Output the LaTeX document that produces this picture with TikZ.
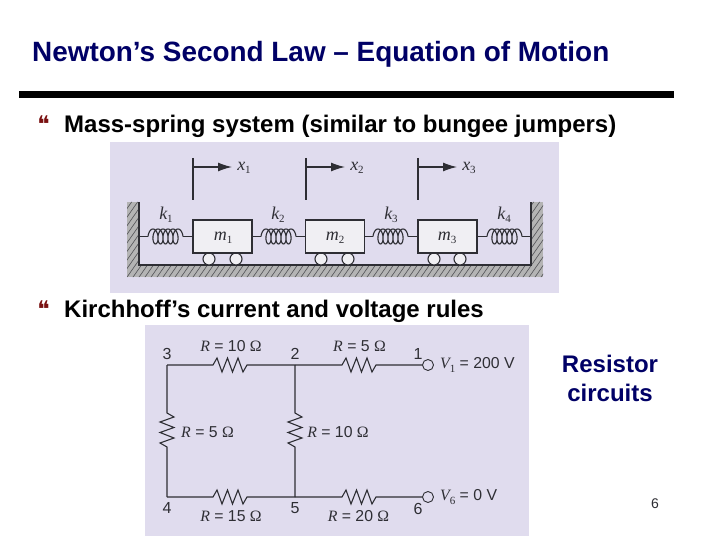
\documentclass[tikz,border=0pt]{standalone}
\usepackage{fontspec}
\setmainfont{Liberation Sans}
\newfontfamily\serifit{Liberation Serif}[ItalicFont=* Italic]
\newfontfamily\dejavu{DejaVu Sans}
\usetikzlibrary{arrows.meta}
\definecolor{panel}{HTML}{E0DCEE}
\definecolor{navytxt}{HTML}{000066}
\definecolor{bulletred}{HTML}{7A1010}
\definecolor{ink}{HTML}{2E2E34}
\definecolor{massfill}{HTML}{F0EFF3}
\definecolor{hatchfill}{HTML}{B4B4B4}
\definecolor{hatchline}{HTML}{505054}
\newcommand{\sym}[1]{{\serifit\itshape #1}}
\newcommand{\sub}[2]{{\serifit\itshape #1\raisebox{-3.5pt}{\fontsize{11}{12}\selectfont\upshape #2}}}
\newcommand{\ohm}{{\serifit Ω}}
\newcommand{\lbl}[2]{\sym{#1} = #2}
\newcommand{\hzig}{-- ++(4,-7) -- ++(5,14) -- ++(5.5,-14) -- ++(5,14) -- ++(5.5,-14) -- ++(5,14) -- ++(4,-7)}
\newcommand{\vzig}{-- ++(7,4) -- ++(-14,5) -- ++(14,5.5) -- ++(-14,5) -- ++(14,5.5) -- ++(-14,5) -- ++(7,4)}
\tikzset{
  x=1pt,y=-1pt,
  titletxt/.style={font=\fontsize{27.9}{30}\selectfont\bfseries,text=navytxt,anchor=base west,inner sep=0},
  bullettxt/.style={font=\fontsize{24}{26}\selectfont\bfseries,text=black,anchor=base west,inner sep=0},
  bulletmark/.style={font=\dejavu\fontsize{23}{26}\selectfont,text=bulletred,inner sep=0},
  sidetxt/.style={font=\fontsize{24}{26}\selectfont\bfseries,text=navytxt,inner sep=0,align=center},
  masslabel/.style={font=\fontsize{18}{20}\selectfont,text=ink,inner sep=0},
  circlabel/.style={font=\fontsize{15.8}{18}\selectfont,text=ink,inner sep=0},
  nodenum/.style={font=\fontsize{16}{18}\selectfont,text=ink,inner sep=0},
  mass/.style={draw=ink,line width=1.3pt,fill=massfill,inner sep=0,minimum width=59pt,minimum height=33pt},
  wheel/.style={circle,draw=ink,line width=1.1pt,fill=massfill,inner sep=0,minimum size=12pt},
  terminal/.style={circle,draw=ink,line width=0.9pt,fill=panel,inner sep=0,minimum size=11pt},
  wire/.style={draw=ink,line width=1.1pt},
  marker/.style={draw=ink,line width=1.3pt},
  markerarrow/.style={draw=ink,line width=1.3pt,-{Latex[length=14pt,width=9pt]}},
  coilpic/.pic={\draw[wire,line join=round] plot[domain=0:1980,samples=133,variable=\t]
     ({3.75+\t/360*5-3.75*cos(\t)},{-7.5*sin(\t)});},
}
\begin{document}
\begin{tikzpicture}
\useasboundingbox (0,0) rectangle (720,540);
\fill[white] (0,0) rectangle (720,540);
\node[titletxt] (title) at (32,61.5) {Newton’s Second Law – Equation of Motion};
\fill[black] (19,91) rectangle (674,98);
\node[bulletmark] (b1) at (43.5,124) {❝};
\node[bullettxt] (t1) at (64,133) {Mass-spring system (similar to bungee jumpers)};
\node[bulletmark] (b2) at (43.5,309) {❝};
\node[bullettxt] (t2) at (64,317.5) {Kirchhoff’s current and voltage rules};
% mass-spring panel
\fill[panel] (110,142) rectangle (559,293);
\begin{scope}
\clip (127,202) -- (139,202) -- (139,265) -- (531,265) -- (531,202) -- (543,202) -- (543,277) -- (127,277) -- cycle;
\fill[hatchfill] (127,202) rectangle (543,277);
\foreach \i in {40,46,...,560}{\draw[hatchline,line width=0.6pt] (\i,290) -- (\i+70,190);}
\end{scope}
\draw[ink,line width=1.1pt] (139,202) -- (139,265) -- (531,265) -- (531,202);
\node[wheel] (w1) at (209,259) {};
\node[wheel] (w2) at (236,259) {};
\node[wheel] (w3) at (321,259) {};
\node[wheel] (w4) at (348,259) {};
\node[wheel] (w5) at (434,259) {};
\node[wheel] (w6) at (460,259) {};
\node[mass] (m1) at (222.5,236.5) {};
\node[mass] (m2) at (335,236.5) {};
\node[mass] (m3) at (447.5,236.5) {};
\node[masslabel] (lm1) at (223,238) {\sub{m}{1}};
\node[masslabel] (lm2) at (335,238) {\sub{m}{2}};
\node[masslabel] (lm3) at (447,238) {\sub{m}{3}};
\coordinate (wl) at (139,236.5);
\coordinate (wr) at (531,236.5);
\coordinate (s1a) at (148,236.5); \coordinate (s1b) at (183,236.5);
\coordinate (s2a) at (261,236.5); \coordinate (s2b) at (296,236.5);
\coordinate (s3a) at (373,236.5); \coordinate (s3b) at (408,236.5);
\coordinate (s4a) at (487,236.5); \coordinate (s4b) at (522,236.5);
\pic at (s1a) {coilpic}; \pic at (s2a) {coilpic}; \pic at (s3a) {coilpic}; \pic at (s4a) {coilpic};
\draw[wire] (wl) -- (s1a); \draw[wire] (s1b) -- (m1.west);
\draw[wire] (m1.east) -- (s2a); \draw[wire] (s2b) -- (m2.west);
\draw[wire] (m2.east) -- (s3a); \draw[wire] (s3b) -- (m3.west);
\draw[wire] (m3.east) -- (s4a); \draw[wire] (s4b) -- (wr);
\node[masslabel] (k1) at (166,215) {\sub{k}{1}};
\node[masslabel] (k2) at (278,215) {\sub{k}{2}};
\node[masslabel] (k3) at (391,215) {\sub{k}{3}};
\node[masslabel] (k4) at (504,215) {\sub{k}{4}};
\coordinate (x1a) at (193,158); \coordinate (x1b) at (193,200); \coordinate (x1c) at (193,167); \coordinate (x1d) at (232,167);
\coordinate (x2a) at (306,158); \coordinate (x2b) at (306,200); \coordinate (x2c) at (306,167); \coordinate (x2d) at (345,167);
\coordinate (x3a) at (418,158); \coordinate (x3b) at (418,200); \coordinate (x3c) at (418,167); \coordinate (x3d) at (457,167);
\draw[marker] (x1a) -- (x1b); \draw[markerarrow] (x1c) -- (x1d);
\draw[marker] (x2a) -- (x2b); \draw[markerarrow] (x2c) -- (x2d);
\draw[marker] (x3a) -- (x3b); \draw[markerarrow] (x3c) -- (x3d);
\node[masslabel] (x1) at (244,168) {\sub{x}{1}};
\node[masslabel] (x2) at (357,168) {\sub{x}{2}};
\node[masslabel] (x3) at (469,168) {\sub{x}{3}};
% circuit panel
\fill[panel] (145,325) rectangle (529,536);
\coordinate (n3) at (167,365);
\coordinate (n2) at (295,365);
\coordinate (n4) at (167,497);
\coordinate (n5) at (295,497);
\node[terminal] (n1) at (428,365) {};
\node[terminal] (n6) at (428,497) {};
\coordinate (r1) at (213,365);
\coordinate (r2) at (342,365);
\coordinate (r3) at (167,413);
\coordinate (r4) at (295,413);
\coordinate (r5) at (213,497);
\coordinate (r6) at (342,497);
\draw[wire] (n3) -- (r1) \hzig -- (n2);
\draw[wire] (n2) -- (r2) \hzig -- (n1);
\draw[wire] (n3) -- (r3) \vzig -- (n4);
\draw[wire] (n2) -- (r4) \vzig -- (n5);
\draw[wire] (n4) -- (r5) \hzig -- (n5);
\draw[wire] (n5) -- (r6) \hzig -- (n6);
\node[nodenum] (l3) at (167,354) {3};
\node[nodenum] (l2) at (295,354) {2};
\node[nodenum] (l1) at (418,354) {1};
\node[nodenum] (l4) at (167,508) {4};
\node[nodenum] (l5) at (295,508) {5};
\node[nodenum] (l6) at (418,509) {6};
\node[circlabel] (ra) at (231,346) {\lbl{R}{10 \ohm}};
\node[circlabel] (rb) at (359.5,346) {\lbl{R}{5 \ohm}};
\node[circlabel] (rc) at (207.5,432) {\lbl{R}{5 \ohm}};
\node[circlabel] (rd) at (338,432) {\lbl{R}{10 \ohm}};
\node[circlabel] (re) at (231,516) {\lbl{R}{15 \ohm}};
\node[circlabel] (rf) at (358.5,516) {\lbl{R}{20 \ohm}};
\node[circlabel,anchor=west] (v1) at (440,365) {\sub{V}{1} = 200 V};
\node[circlabel,anchor=west] (v6) at (440,497) {\sub{V}{6} = 0 V};
\node[sidetxt] (side) at (610,378) {Resistor\\[3pt]circuits};
\node[font=\fontsize{14}{16}\selectfont,text=ink,inner sep=0] (pg) at (655,504) {6};
\end{tikzpicture}
\end{document}
